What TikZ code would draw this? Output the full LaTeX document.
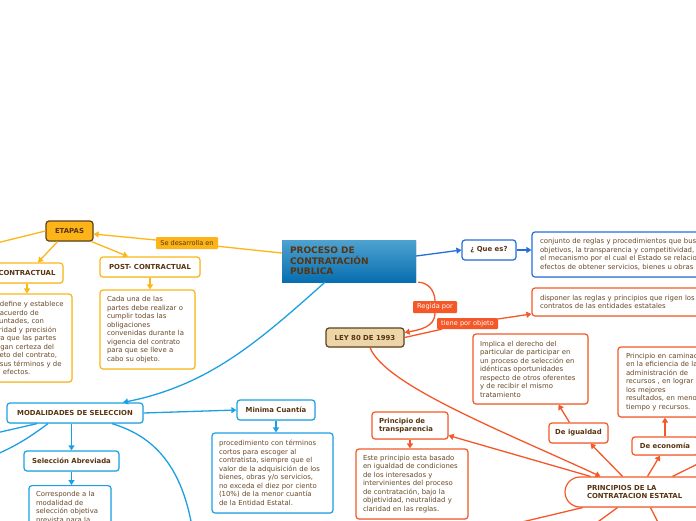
\documentclass[tikz,border=0pt]{standalone}
\usepackage{fontspec}
\setmainfont{DejaVu Sans}
\usetikzlibrary{arrows.meta, shadows}

\definecolor{orangeC}{RGB}{252,182,22}
\definecolor{etapasFill}{RGB}{253,180,24}
\definecolor{darkbrown}{RGB}{88,52,16}
\definecolor{bodybrown}{RGB}{105,72,38}
\definecolor{redC}{RGB}{244,88,40}
\definecolor{blueC}{RGB}{38,110,218}
\definecolor{lblueC}{RGB}{28,160,228}
\definecolor{procTop}{RGB}{78,162,208}
\definecolor{procBot}{RGB}{8,110,176}
\definecolor{leyFill}{RGB}{236,214,168}
\definecolor{leyDraw}{RGB}{96,66,30}

\tikzset{
  bx/.style={rectangle, rounded corners=3pt, fill=white, line width=1.2pt, inner sep=0pt,
    drop shadow={shadow xshift=0.6pt, shadow yshift=-0.9pt, opacity=0.18}},
  hd/.style={font=\bfseries\fontsize{6.9}{8.5}\selectfont, text=darkbrown},
  bd/.style={font=\fontsize{6.9}{8.5}\selectfont, text=bodybrown, align=left, inner xsep=7pt, inner ysep=4pt},
  orbox/.style={bx, draw=orangeC},
  rdbox/.style={bx, draw=redC},
  dbbox/.style={bx, draw=blueC},
  lbbox/.style={bx, draw=lblueC},
  tag/.style={rectangle, rounded corners=1pt, inner sep=0pt, font=\fontsize{6.6}{7.5}\selectfont},
  orline/.style={draw=orangeC, line width=1.3pt},
  rdline/.style={draw=redC, line width=1.3pt},
  dbline/.style={draw=blueC, line width=1.3pt},
  lbline/.style={draw=lblueC, line width=1.3pt},
  arr/.style={-{Triangle[length=5pt, width=6pt]}},
}

\begin{document}
\begin{tikzpicture}[x=1pt, y=-1pt]
  \useasboundingbox (0,0) rectangle (696,520);
  \clip (0,0) rectangle (696,520);
  \fill[white] (0,0) rectangle (696,520);

  % --- ETAPAS (orange) ---
  \node[orbox, hd, fill=etapasFill, draw=leyDraw, minimum width=47pt, minimum height=20pt] (etapas) at (69.5,231) {ETAPAS};
  \node[orbox, hd, minimum width=72pt, minimum height=20pt] (contractual) at (27,273) {CONTRACTUAL};
  \node[orbox, bd, text width=76pt, minimum height=88pt] (contractualtxt) at (27,338)
    {Se define y establece\\de acuerdo de\\voluntades, con\\claridad y precisión\\para que las partes\\tengan certeza del\\objeto del contrato,\\de sus términos y de\\sus efectos.};
  \node[orbox, hd, minimum width=100pt, minimum height=20pt] (post) at (150,267) {POST- CONTRACTUAL};
  \node[orbox, bd, text width=81pt, minimum height=79pt] (posttxt) at (147.5,329.5)
    {Cada una de las\\partes debe realizar o\\cumplir todas las\\obligaciones\\convenidas durante la\\vigencia del contrato\\para que se lleve a\\cabo su objeto.};
  \node[tag, fill=etapasFill, text=darkbrown, minimum width=62pt, minimum height=12pt] (desarrolla) at (187,243) {Se desarrolla en};

  % --- centre ---
  \node[rectangle, top color=procTop, bottom color=procBot, minimum width=134pt, minimum height=42pt,
    text width=118pt, inner xsep=8pt, align=left, font=\bfseries\fontsize{9}{10.7}\selectfont, text=darkbrown,
    drop shadow={shadow xshift=0.6pt, shadow yshift=-0.9pt, opacity=0.18}] (proceso) at (349,261)
    {PROCESO DE\\CONTRATACIÓN\\PUBLICA};

  % --- Que es (dark blue) ---
  \node[dbbox, hd, minimum width=54pt, minimum height=20pt] (quees) at (489,250) {¿ Que es?};
  \node[dbbox, bd, text width=214pt, inner xsep=8pt, minimum height=45pt] (conjunto) at (647,254.5)
    {conjunto de reglas y procedimientos que buscan\\objetivos, la transparencia y competitividad, siendo\\el mecanismo por el cual el Estado se relaciona con\\efectos de obtener servicios, bienes u obras};

  % --- LEY 80 (red) ---
  \node[tag, fill=redC, text=white, minimum width=44pt, minimum height=12pt] (regida) at (435,307) {Regida por};
  \node[bx, hd, fill=leyFill, draw=leyDraw, minimum width=78pt, minimum height=19pt] (ley) at (365,337.5) {LEY 80 DE 1993};
  \node[tag, fill=redC, text=white, minimum width=61pt, minimum height=11pt] (tiene) at (467.5,323.5) {tiene por objeto};
  \node[rdbox, bd, text width=214pt, inner xsep=8pt, minimum height=28pt] (disponer) at (647,302)
    {disponer las reglas y principios que rigen los\\contratos de las entidades estatales};
  \node[rdbox, hd, rounded corners=15pt, text width=131pt, inner xsep=22pt, align=left, minimum height=30pt] (principios) at (652.5,492)
    {PRINCIPIOS DE LA\\CONTRATACION ESTATAL};
  \node[rdbox, hd, minimum width=59pt, minimum height=20pt] (igualdad) at (578.5,433) {De igualdad};
  \node[rdbox, bd, text width=101pt, minimum height=70pt] (implica) at (530.5,369)
    {Implica el derecho del\\particular de participar en\\un proceso de selección en\\idénticas oportunidades\\respecto de otros oferentes\\y de recibir el mismo\\tratamiento};
  \node[rdbox, hd, minimum width=66pt, minimum height=18pt] (economia) at (665,446) {De economía};
  \node[rdbox, bd, text width=110pt, inner xsep=8pt, minimum height=70pt] (caminado) at (681,382)
    {Principio en caminado\\en la eficiencia de la\\administración de\\recursos , en lograr\\los mejores\\resultados, en menor\\tiempo y recursos.};
  \node[rdbox, hd, text width=62pt, inner xsep=7pt, align=left, minimum height=27pt] (transparencia) at (410,425.5)
    {Principio de\\transparencia};
  \node[rdbox, bd, text width=98pt, minimum height=70pt] (este) at (412,484)
    {Este principio esta basado\\en igualdad de condiciones\\de los interesados  y\\intervinientes del proceso\\de contratación, bajo la\\objetividad, neutralidad y\\claridad en las reglas.};

  % --- MODALIDADES (light blue) ---
  \node[lbbox, hd, minimum width=136pt, minimum height=20pt] (modalidades) at (75,413) {MODALIDADES DE SELECCION};
  \node[lbbox, hd, minimum width=78pt, minimum height=20pt] (minima) at (276,410) {Minima Cuantía};
  \node[lbbox, bd, text width=107pt, minimum height=80pt] (procedimiento) at (272.5,473)
    {procedimiento con términos\\cortos para escoger al\\contratista, siempre que el\\valor de la adquisición de los\\bienes, obras y/o servicios,\\no exceda el diez por ciento\\(10\%) de la menor cuantía\\de la Entidad Estatal.};
  \node[lbbox, hd, minimum width=95pt, minimum height=20pt] (abreviada) at (71.5,461) {Selección Abreviada};
  \node[lbbox, bd, text width=68pt, inner ysep=6pt, anchor=north] (corresponde) at (70,485)
    {Corresponde a la\\modalidad de\\selección objetiva\\prevista para la};

  % --- free ends outside the frame ---
  \coordinate (pre) at (-40,252);
  \coordinate (modA) at (-30,439);
  \coordinate (modB) at (-20,461);
  \coordinate (modC) at (196,560);
  \coordinate (prR) at (730,448);
  \coordinate (prB1) at (573,540);
  \coordinate (prB2) at (667,540);
  \coordinate (prB3) at (480,532);

  % --- orange connectors ---
  \draw[orline] ([yshift=8pt]proceso.west) -- (desarrolla);
  \draw[orline, arr] (desarrolla) -- ([yshift=-3pt]etapas.east);
  \draw[orline, arr] (etapas.west) -- (pre);
  \draw[orline, arr] ([xshift=-12pt]etapas.south) -- ([xshift=11pt]contractual.north);
  \draw[orline, arr] ([xshift=22pt]etapas.south) -- ([xshift=-22pt]post.north);
  \draw[orline, arr] (contractual.south) -- (contractualtxt.north);
  \draw[orline, arr] (post.south) -- (post.south |- posttxt.north);

  % --- blue connectors ---
  \draw[dbline, arr] ([yshift=5pt]proceso.east) -- (quees.west);
  \draw[dbline, arr] (quees.east) -- (quees.east -| conjunto.west);
  \draw[lbline, arr] ([xshift=-24pt]proceso.south) .. controls (260,340) and (210,385) .. ([xshift=48pt]modalidades.north);
  \draw[lbline, arr] (modalidades.east) -- (minima.west);
  \draw[lbline, arr] (abreviada.north |- modalidades.south) -- (abreviada.north);
  \draw[lbline, arr] (abreviada.south) -- (abreviada.south |- corresponde.north);
  \draw[lbline, arr] (minima.south) -- (minima.south |- procedimiento.north);
  \draw[lbline] ([xshift=-38pt]modalidades.south) -- (modA);
  \draw[lbline] ([xshift=-27pt]modalidades.south) to[bend left=8] (modB);
  \draw[lbline] ([xshift=37pt]modalidades.south) .. controls (160,438) and (190,475) .. (modC);

  % --- red connectors ---
  \draw[rdline] ([xshift=2pt]proceso.south east) to[out=0, in=90] (regida);
  \draw[rdline, arr] (regida) to[out=-90, in=10] ([yshift=5pt]ley.east);
  \draw[rdline] (ley.east) -- (tiene);
  \draw[rdline, arr] (tiene) -- ([yshift=-12pt]disponer.west);
  \draw[rdline, arr] ([xshift=5pt]ley.south) .. controls (385,385) and (500,430) .. ([xshift=-52pt]principios.north);
  \draw[rdline, arr] ([xshift=-62pt]principios.north) -- ([yshift=-10pt]transparencia.east);
  \draw[rdline, arr] ([xshift=-30pt]principios.north) -- ([xshift=12pt]igualdad.south);
  \draw[rdline, arr] ([xshift=-5pt]principios.north) -- ([xshift=-5pt]economia.south);
  \draw[rdline] ([xshift=20pt]principios.north) -- (prR);
  \draw[rdline] ([xshift=-35pt]principios.south) -- (prB1);
  \draw[rdline] ([xshift=-2pt]principios.south) -- (prB2);
  \draw[rdline] ([xshift=-70pt]principios.south) -- (prB3);
  \draw[rdline, arr] ([xshift=-9pt]igualdad.north) -- ([xshift=28pt]implica.south);
  \draw[rdline, arr] (economia.north) -- (economia.north |- caminado.south);
  \draw[rdline, arr] (transparencia.south) -- (transparencia.south |- este.north);

\end{tikzpicture}
\end{document}
